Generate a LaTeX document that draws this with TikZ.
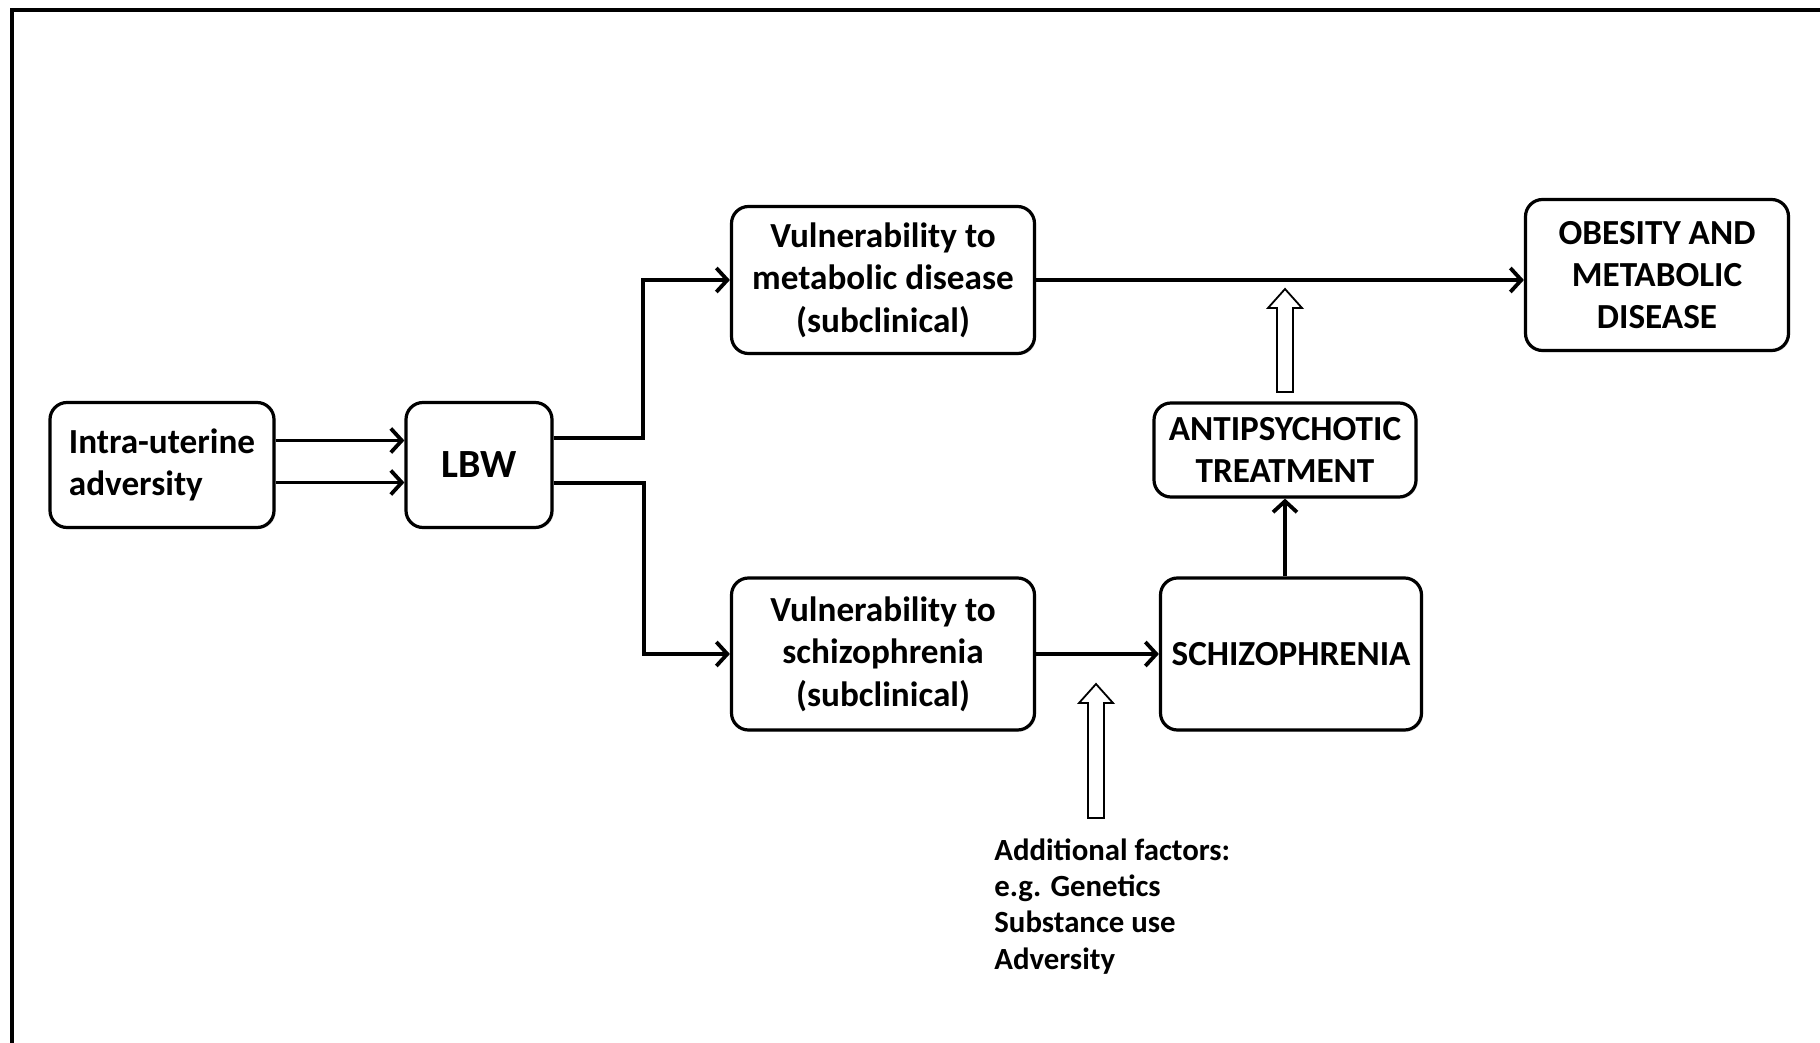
\documentclass[tikz,border=0pt]{standalone}
\usepackage{fontspec}
\setmainfont{Carlito}
\usetikzlibrary{arrows.meta,shadows}

\tikzset{
  caja/.style={draw,line width=1.6pt,rounded corners=8.5pt,fill=white,align=center,
    inner sep=2pt,font=\fontsize{17.6}{21.2}\selectfont\bfseries,
    drop shadow={opacity=.25,shadow xshift=.8pt,shadow yshift=-.8pt}},
  flecha/.style={line width=1.9pt,-{Straight Barb[length=5.5pt,width=12pt]}},
  hueca/.style={line width=.9pt,fill=white}
}

\begin{document}
\begin{tikzpicture}[x=.5pt,y=-.5pt]
\useasboundingbox (0,0) rectangle (1820,1043);
\clip (0,0) rectangle (1820,1043);
% marco
\draw[line width=1.6pt] (12,1060) -- (12,10) -- (1840,10);
%
% cajas
\node[caja,align=left,minimum width=112pt,minimum height=62.5pt] (intra) at (162,465) {Intra-uterine\\adversity};
\node[caja,font=\fontsize{20}{24}\selectfont\bfseries,minimum width=73pt,minimum height=62.5pt] (lbw) at (479,465) {LBW};
\node[caja,minimum width=151.5pt,minimum height=73.5pt] (vmet) at (883,280) {Vulnerability to\\metabolic disease\\(subclinical)};
\node[caja,minimum width=151.5pt,minimum height=76pt] (vsch) at (883,654) {Vulnerability to\\schizophrenia\\(subclinical)};
\node[caja,minimum width=131.5pt,minimum height=75.5pt] (obes) at (1657,275) {OBESITY AND\\METABOLIC\\DISEASE};
\node[caja,minimum width=131pt,minimum height=47pt] (anti) at (1285,450) {ANTIPSYCHOTIC\\TREATMENT};
\node[caja,minimum width=130.5pt,minimum height=76pt] (schiz) at (1291,654) {SCHIZOPHRENIA};
\node[anchor=north west,align=left,inner sep=0pt,
  font=\fontsize{15.4}{18.2}\selectfont\bfseries] (extra) at (994,838)
  {Additional factors:\\e.g. Genetics\\Substance use\\Adversity};
%
% conectores
\draw[flecha] ([yshift=12.25pt]intra.east) -- ([yshift=12.25pt]lbw.west);
\draw[flecha] ([yshift=-8.75pt]intra.east) -- ([yshift=-8.75pt]lbw.west);
\draw[flecha] ([yshift=13.5pt]lbw.east) -- ++(89,0) |- (vmet.west);
\draw[flecha] ([yshift=-9pt]lbw.east) -- ++(90,0) |- (vsch.west);
\draw[flecha] (vmet.east) -- (obes.west |- vmet.east);
\draw[flecha] (vsch.east) -- (schiz.west |- vsch.east);
\draw[flecha] (anti.south |- schiz.north) -- (anti.south);
%
% flechas huecas
\foreach \cx/\yb/\yt in {1285/392/289, 1096/818/684}
\draw[hueca] (\cx-8,\yb) -- (\cx-8,\yt+19) -- (\cx-17,\yt+19) -- (\cx,\yt)
  -- (\cx+17,\yt+19) -- (\cx+8,\yt+19) -- (\cx+8,\yb) -- cycle;
\end{tikzpicture}
\end{document}
